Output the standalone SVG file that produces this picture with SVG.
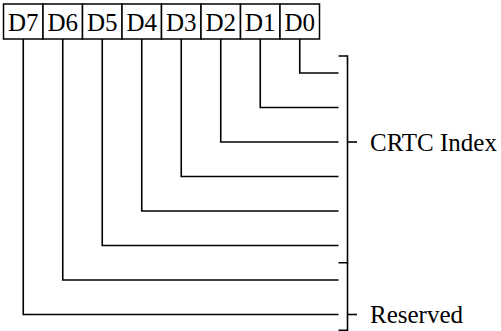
<svg xmlns="http://www.w3.org/2000/svg" width="501" height="331" viewBox="0 0 501 331">
<style>
.box{fill:#fff;stroke:#000;stroke-width:1.5}
.t{font-family:"Liberation Serif","Times New Roman",serif;font-size:25px;fill:#000}
.c{text-anchor:middle}
.ln{fill:none;stroke:#000;stroke-width:1.6}
</style>
<rect width="501" height="331" fill="#fff"/>
<g id="D7"><rect class="box" x="3.5" y="4" width="39.5" height="35"/><text class="t c" x="23.25" y="31">D7</text></g>
<g id="D6"><rect class="box" x="43" y="4" width="39.5" height="35"/><text class="t c" x="62.75" y="31">D6</text></g>
<g id="D5"><rect class="box" x="82.5" y="4" width="39.5" height="35"/><text class="t c" x="102.25" y="31">D5</text></g>
<g id="D4"><rect class="box" x="122" y="4" width="39.5" height="35"/><text class="t c" x="141.75" y="31">D4</text></g>
<g id="D3"><rect class="box" x="161.5" y="4" width="39.5" height="35"/><text class="t c" x="181.25" y="31">D3</text></g>
<g id="D2"><rect class="box" x="201" y="4" width="39.5" height="35"/><text class="t c" x="220.75" y="31">D2</text></g>
<g id="D1"><rect class="box" x="240.5" y="4" width="39.5" height="35"/><text class="t c" x="260.25" y="31">D1</text></g>
<g id="D0"><rect class="box" x="280" y="4" width="39.5" height="35"/><text class="t c" x="299.75" y="31">D0</text></g>
<g id="connectors" class="ln">
<path d="M299.75 39V73H338.5"/>
<path d="M260.25 39V107.5H338.5"/>
<path d="M220.75 39V142H338.5"/>
<path d="M181.25 39V176.5H338.5"/>
<path d="M141.75 39V211H338.5"/>
<path d="M102.25 39V245.5H338.5"/>
<path d="M62.75 39V280H338.5"/>
<path d="M23.25 39V314.5H338.5"/>
</g>
<g id="bracket-crtc" class="ln">
<path d="M338.5 56H347.5V262.7H338.5"/>
<path d="M347.5 142H357"/>
</g>
<g id="bracket-reserved" class="ln">
<path d="M347.5 262.7V330.2H338.5"/>
<path d="M347.5 314.5H357"/>
</g>
<g id="labels">
<text class="t" x="370" y="151">CRTC Index</text>
<text class="t" x="370" y="323">Reserved</text>
</g>
</svg>
